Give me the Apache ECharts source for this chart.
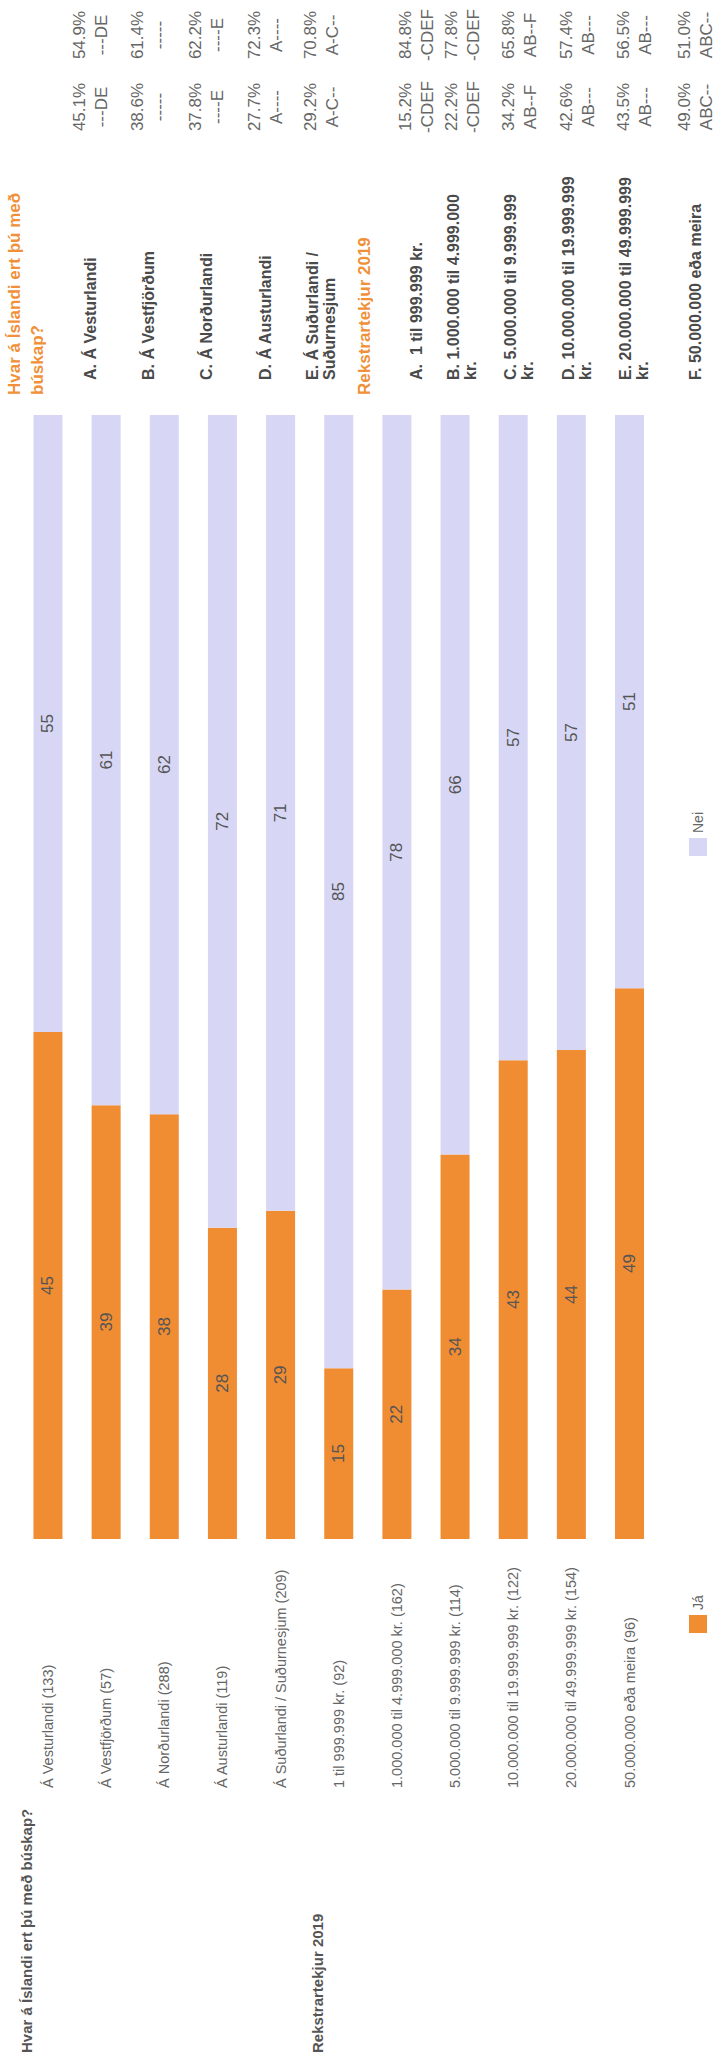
<!DOCTYPE html>
<html><head><meta charset="utf-8">
<script src="https://cdn.jsdelivr.net/npm/echarts@6/dist/echarts.min.js"></script>
<style>
html,body{margin:0;padding:0;background:#fff;width:719px;height:2057px;overflow:hidden;}
#chart{position:absolute;left:0;top:0;width:2057px;height:719px;transform-origin:0 0;transform:translateY(2057px) rotate(-90deg);}
</style></head><body><div id="chart"></div>
<script>
// ---- data ----
const groupTitles = ['Hvar á Íslandi ert þú með búskap?', 'Rekstrartekjur 2019'];
const groupStart = [0, 5];
const categories = [
  'Á Vesturlandi (133)', 'Á Vestfjörðum (57)', 'Á Norðurlandi (288)', 'Á Austurlandi (119)',
  'Á Suðurlandi / Suðurnesjum (209)', '1 til 999.999 kr. (92)', '1.000.000 til 4.999.000 kr. (162)',
  '5.000.000 til 9.999.999 kr. (114)', '10.000.000 til 19.999.999 kr. (122)',
  '20.000.000 til 49.999.999 kr. (154)', '50.000.000 eða meira (96)'
];
const seriesNames = ['Já', 'Nei'];
const jaValues  = [45.1, 38.6, 37.8, 27.7, 29.2, 15.2, 22.2, 34.2, 42.6, 43.5, 49.0];
const neiValues = [54.9, 61.4, 62.2, 72.3, 70.8, 84.8, 77.8, 65.8, 57.4, 56.5, 51.0];
const tableTitles = ['Hvar á Íslandi ert þú með\nbúskap?', 'Rekstrartekjur 2019'];
const tableLabels = [
  'A. Á Vesturlandi', 'B. Á Vestfjörðum', 'C. Á Norðurlandi', 'D. Á Austurlandi', 'E. Á Suðurlandi /\nSuðurnesjum',
  'A.  1 til 999.999 kr.', 'B. 1.000.000 til 4.999.000\nkr.', 'C. 5.000.000 til 9.999.999\nkr.',
  'D. 10.000.000 til 19.999.999\nkr.', 'E. 20.000.000 til 49.999.999\nkr.', 'F. 50.000.000 eða meira'
];
const sigJa  = ['---DE', '-----', '----E', 'A----', 'A-C--', '-CDEF', '-CDEF', 'AB--F', 'AB---', 'AB---', 'ABC--'];
const sigNei = ['---DE', '-----', '----E', 'A----', 'A-C--', '-CDEF', '-CDEF', 'AB--F', 'AB---', 'AB---', 'ABC--'];

// ---- layout / style ----
const ORANGE = '#F08C32', LAV = '#D7D7F5';
const FONT = '"Liberation Sans", Arial, Helvetica, sans-serif';
const W = 2057, H = 719;
const gridLeft = 518, gridRight = 415, gridTop = 18.9, gridBottom = 60.4;
const band = (H - gridTop - gridBottom) / categories.length;
const tableTitleY = [25.5, 364];
const tableRowY = [90, 148, 206, 265, 321, 416, 462, 519, 577, 634, 695];
const tableLabelX = 1677, col1X = 1950, col2X = 2022;

const graphics = [];
groupTitles.forEach((t, g) => {
  graphics.push({type:'text', x: 4, y: gridTop + band * groupStart[g] + band/2 - 21,
    style:{text:t, font:'bold 15px ' + FONT, fill:'#555', verticalAlign:'middle'}});
});
tableTitles.forEach((t, g) => {
  graphics.push({type:'text', x: tableLabelX - 15, y: tableTitleY[g],
    style:{text:t, font:'bold 17px ' + FONT, fill:'#F0913A', verticalAlign:'middle', lineHeight:23}});
});
tableLabels.forEach((t, i) => {
  const y = tableRowY[i];
  graphics.push({type:'text', x: tableLabelX, y: y,
    style:{text:t, font:'bold 16px ' + FONT, fill:'#4a4a4a', verticalAlign:'middle', lineHeight:17}});
  graphics.push({type:'text', x: col1X, y: y,
    style:{text: jaValues[i].toFixed(1) + '%\n' + sigJa[i], font:'17px ' + FONT, fill:'#666', align:'center', verticalAlign:'middle', lineHeight:22}});
  graphics.push({type:'text', x: col2X, y: y,
    style:{text: neiValues[i].toFixed(1) + '%\n' + sigNei[i], font:'17px ' + FONT, fill:'#666', align:'center', verticalAlign:'middle', lineHeight:22}});
});

const chart = echarts.init(document.getElementById('chart'), null, {renderer:'svg', width:W, height:H});
const lbl = {show:true, position:'inside', color:'#555', fontSize:17, fontFamily:FONT, formatter:p => Math.round(p.value)};
chart.setOption({
  animation:false,
  backgroundColor:'#fff',
  grid:{left:gridLeft, right:gridRight, top:gridTop, bottom:gridBottom, containLabel:false},
  xAxis:{type:'value', min:0, max:100, show:false},
  yAxis:{type:'category', data:categories, inverse:true,
    axisLine:{show:false}, axisTick:{show:false}, splitLine:{show:false},
    axisLabel:{align:'left', margin:gridLeft - 269, color:'#666', fontSize:14.5, fontFamily:FONT}},
  legend:[
    {data:[seriesNames[0]], left:424, top:689, padding:0, itemWidth:18, itemHeight:18, itemGap:0, icon:'rect',
      textStyle:{color:'#666', fontSize:14, fontFamily:FONT}},
    {data:[seriesNames[1]], left:1201, top:689, padding:0, itemWidth:18, itemHeight:18, itemGap:0, icon:'rect',
      textStyle:{color:'#666', fontSize:14, fontFamily:FONT}}
  ],
  series:[
    {name:seriesNames[0], type:'bar', stack:'t', data:jaValues, barWidth:29, itemStyle:{color:ORANGE}, label:lbl},
    {name:seriesNames[1], type:'bar', stack:'t', data:neiValues, barWidth:29, itemStyle:{color:LAV}, label:lbl}
  ],
  graphic:graphics
});
</script></body></html>
